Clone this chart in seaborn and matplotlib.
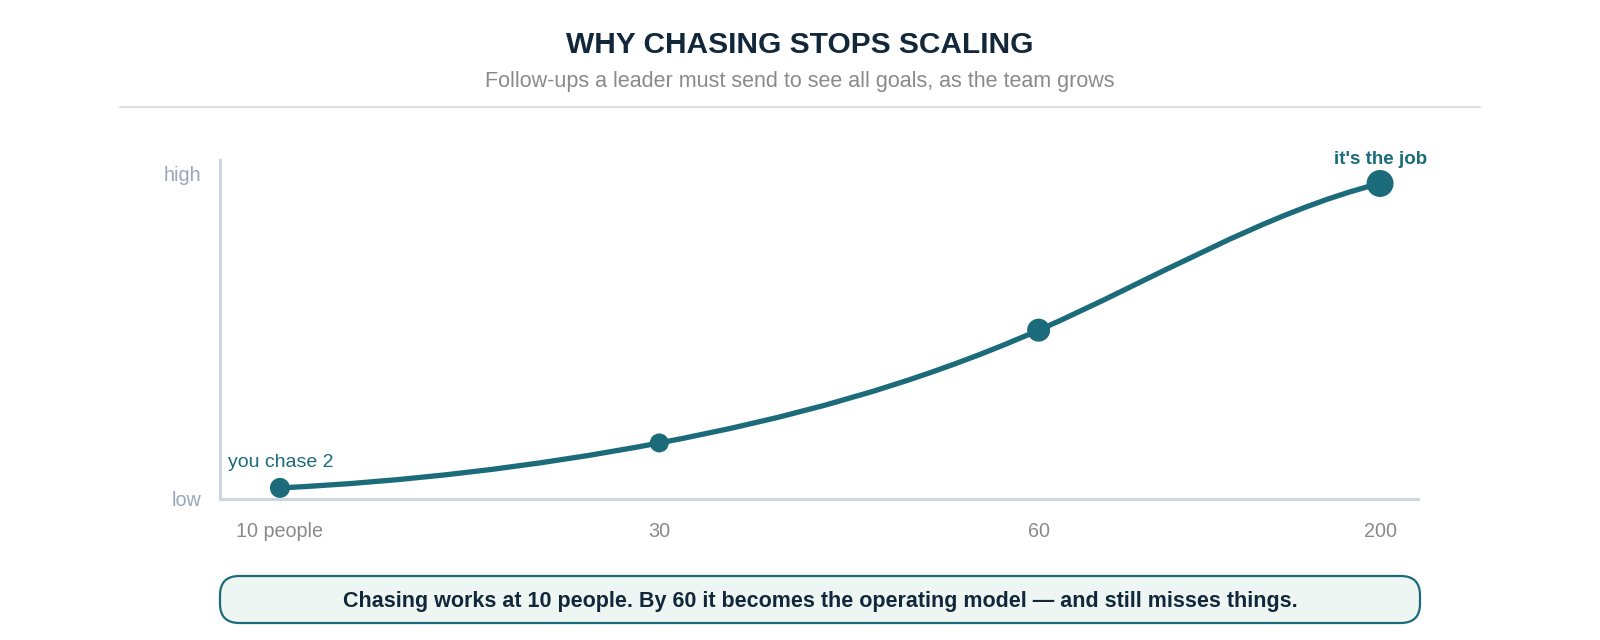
import numpy as np
import matplotlib
matplotlib.use("Agg")
import matplotlib.pyplot as plt
from matplotlib.path import Path
from matplotlib.patches import PathPatch, FancyBboxPatch
import seaborn as sns
import pandas as pd

# data (y is a 0-100 "effort" scale: low .. high)
team_labels = ['10 people', '30', '60', '200']
x_pos = [0, 1, 2, 2.9]
follow_ups = [3.4, 17.2, 51.8, 96.8]
dot_px = [20, 19, 23, 27]

# shape of the drawn curve: slope at each dot (y units per x unit),
# eased at both ends so the line flattens out at "it's the job"
curve_slopes = [5.8, 22.1, 51.2, 29.1]

TEAL = '#1b6b7a'

sns.set_theme(style='white')
plt.rcParams['font.family'] = ['Liberation Sans', 'DejaVu Sans']

df = pd.DataFrame({'x': x_pos, 'y': follow_ups, 'size': dot_px})

fig = plt.figure(figsize=(16, 6.4), dpi=100)
ax = fig.add_axes([220 / 1600, 141 / 640, 1198 / 1600, 339 / 640])


def hermite_path(xs, ys, ms):
    # cubic bezier segments through the dots with the given slopes
    verts = [(xs[0], ys[0])]
    codes = [Path.MOVETO]
    for i in range(len(xs) - 1):
        dx = (xs[i + 1] - xs[i]) / 3
        verts += [(xs[i] + dx, ys[i] + dx * ms[i]),
                  (xs[i + 1] - dx, ys[i + 1] - dx * ms[i + 1]),
                  (xs[i + 1], ys[i + 1])]
        codes += [Path.CURVE4] * 3
    return Path(verts, codes)


ax.add_patch(PathPatch(hermite_path(x_pos, follow_ups, curve_slopes), fill=False,
                       edgecolor=TEAL, lw=3.8, capstyle='round', zorder=2))

sizes_pt2 = {d: (d * 0.72) ** 2 for d in dot_px}
sns.scatterplot(data=df, x='x', y='y', size='size', sizes=sizes_pt2,
                color=TEAL, edgecolor='none', legend=False, ax=ax, zorder=3)

ax.set_xticks(x_pos)
ax.set_xticklabels(team_labels)
ax.set_yticks([0, 100])
ax.set_yticklabels(['low', 'high'])
ax.set_xlim(-0.158, 3.0)
ax.set_ylim(0, 104)
ax.set_xlabel('')
ax.set_ylabel('')
ax.tick_params(axis='x', length=0, pad=16.5, labelsize=14.2, labelcolor='#8a8a8a')
ax.tick_params(axis='y', length=0, pad=13.5, labelsize=14.2, labelcolor='#9aa6bd')
for side in ['top', 'right']:
    ax.spines[side].set_visible(False)
for side in ['left', 'bottom']:
    ax.spines[side].set_color('#cdd5e1')
    ax.spines[side].set_linewidth(2.2)

ax.annotate('you chase 2', (x_pos[0], follow_ups[0]), xytext=(-52, 25),
            textcoords='offset pixels', ha='left', va='center',
            fontsize=14, color=TEAL)
ax.annotate("it's the job", (x_pos[-1], follow_ups[-1]), xytext=(0, 24),
            textcoords='offset pixels', ha='center', va='center',
            fontsize=13.5, color=TEAL, fontweight='bold')

fig.text(0.5, 1 - 45 / 640, 'WHY CHASING STOPS SCALING', ha='center', va='center',
         fontsize=21.5, fontweight='bold', color='#12283a')
fig.text(0.5, 1 - 82 / 640, 'Follow-ups a leader must send to see all goals, as the team grows',
         ha='center', va='center', fontsize=15.5, color='#8a8a8a')
fig.add_artist(plt.Line2D([120 / 1600, 1480 / 1600], [1 - 107 / 640, 1 - 107 / 640],
                          color='#dddddd', lw=1.6))

box = FancyBboxPatch((220 / 1600, 1 - 623 / 640), 1200 / 1600, 47 / 640,
                     boxstyle='round,pad=0,rounding_size=0.012',
                     transform=fig.transFigure, facecolor='#eef6f3',
                     edgecolor=TEAL, lw=1.6, mutation_aspect=2.5)
fig.add_artist(box)
fig.text(820 / 1600, 1 - 602 / 640,
         'Chasing works at 10 people. By 60 it becomes the operating model \u2014 and still misses things.',
         ha='center', va='center', fontsize=15.5, fontweight='bold', color='#12283a')

fig.savefig('out.png', dpi=100, facecolor='white')
